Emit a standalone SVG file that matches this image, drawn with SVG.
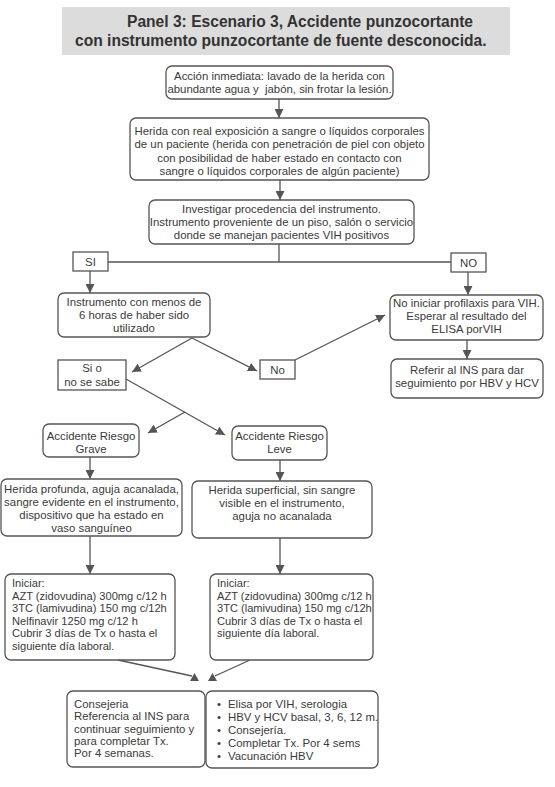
<svg xmlns="http://www.w3.org/2000/svg" width="555" height="787" viewBox="0 0 555 787">
<style>
.box{fill:#fff;stroke:#555;stroke-width:1.3}
.t{font-family:"Liberation Sans",Arial,sans-serif;font-size:11.4px;fill:#3a3a3a}
.s{font-size:11.1px}
.c{text-anchor:middle}
.title{font-family:"Liberation Sans",Arial,sans-serif;font-size:15.6px;font-weight:bold;fill:#333}
.ln{fill:none;stroke:#555;stroke-width:1.3}
.tri{fill:#555}
</style>
<defs>
<marker id="ah" markerUnits="userSpaceOnUse" markerWidth="9" markerHeight="9" refX="9" refY="4.5" orient="auto">
<path d="M0,0 L9,4.5 L0,9 z" fill="#555"/>
</marker>
</defs>
<rect width="555" height="787" fill="#fff"/>
<g id="title">
<rect x="62" y="7" width="448" height="48" fill="#dcdcdc"/>
<text class="title" x="127" y="26.5">Panel 3: Escenario 3, Accidente punzocortante</text>
<text class="title" x="75" y="46">con instrumento punzocortante de fuente desconocida.</text>
</g>
<g id="connectors">
<line class="ln" x1="279" y1="99" x2="279" y2="118" marker-end="url(#ah)"/>
<line class="ln" x1="280" y1="180" x2="280" y2="200" marker-end="url(#ah)"/>
<line class="ln" x1="279" y1="244" x2="279" y2="262"/>
<line class="ln" x1="108" y1="262" x2="451" y2="262"/>
<line class="ln" x1="90" y1="271" x2="90" y2="293" marker-end="url(#ah)"/>
<line class="ln" x1="468" y1="272" x2="468" y2="295" marker-end="url(#ah)"/>
<line class="ln" x1="467" y1="340" x2="467" y2="359" marker-end="url(#ah)"/>
<line class="ln" x1="192" y1="338" x2="132" y2="372" marker-end="url(#ah)"/>
<line class="ln" x1="192" y1="338" x2="257" y2="371" marker-end="url(#ah)"/>
<line class="ln" x1="295" y1="360" x2="385" y2="315" marker-end="url(#ah)"/>
<line class="ln" x1="126" y1="379" x2="225" y2="435" marker-end="url(#ah)"/>
<line class="ln" x1="185" y1="412" x2="148" y2="433" marker-end="url(#ah)"/>
<line class="ln" x1="90" y1="457" x2="90" y2="479" marker-end="url(#ah)"/>
<line class="ln" x1="280" y1="460" x2="280" y2="481" marker-end="url(#ah)"/>
<line class="ln" x1="90" y1="536" x2="90" y2="574" marker-end="url(#ah)"/>
<line class="ln" x1="280" y1="538" x2="280" y2="574" marker-end="url(#ah)"/>
<line class="ln" x1="118" y1="660" x2="192" y2="676"/>
<line class="ln" x1="250" y1="660" x2="215" y2="676"/>
<polygon class="tri" points="190,681 194.5,673 199,681"/>
<polygon class="tri" points="208,681 212.5,673 217,681"/>
</g>
<g id="n1">
<rect class="box" x="166" y="66" width="227" height="33" rx="6"/>
<text class="t c" x="279.5" y="80">Acción inmediata: lavado de la herida con</text>
<text class="t c" x="279.5" y="92.5" xml:space="preserve">abundante agua y  jabón, sin frotar la lesión.</text>
</g>
<g id="n2">
<rect class="box" x="130" y="118" width="299" height="62" rx="6"/>
<text class="t c" x="279.5" y="135">Herida con real exposición a sangre o líquidos corporales</text>
<text class="t c" x="279.5" y="148.3">de un paciente (herida con penetración de piel con objeto</text>
<text class="t c" x="279.5" y="161.6">con posibilidad de haber estado en contacto con</text>
<text class="t c" x="279.5" y="175">sangre o líquidos corporales de algún paciente)</text>
</g>
<g id="n3">
<rect class="box" x="149" y="200" width="265" height="44" rx="6"/>
<text class="t c" x="281.5" y="213">Investigar procedencia del instrumento.</text>
<text class="t c" x="281.5" y="226">Instrumento proveniente de un piso, salón o servicio</text>
<text class="t c" x="281.5" y="239">donde se manejan pacientes VIH positivos</text>
</g>
<g id="si">
<rect class="box" x="73" y="252" width="35" height="19"/>
<text class="t c" x="90.5" y="266">SI</text>
</g>
<g id="no">
<rect class="box" x="451" y="253" width="35" height="19"/>
<text class="t c" x="468.5" y="267">NO</text>
</g>
<g id="n4">
<rect class="box" x="58" y="293" width="152" height="44" rx="6"/>
<text class="t c" x="134" y="306">Instrumento con menos de</text>
<text class="t c" x="134" y="319">6 horas de haber sido</text>
<text class="t c" x="134" y="332">utilizado</text>
</g>
<g id="n5">
<rect class="box" x="390" y="295" width="153" height="45" rx="6"/>
<text class="t c" x="466.5" y="307">No iniciar profilaxis para VIH.</text>
<text class="t c" x="466.5" y="320">Esperar al resultado del</text>
<text class="t c" x="466.5" y="333">ELISA porVIH</text>
</g>
<g id="n6">
<rect class="box" x="391" y="359" width="152" height="39" rx="6"/>
<text class="t c" x="467" y="374">Referir al INS para dar</text>
<text class="t c" x="467" y="386.5">seguimiento por HBV y HCV</text>
</g>
<g id="sio">
<rect class="box" x="58" y="360" width="68" height="30"/>
<text class="t c" x="92" y="372">Si o</text>
<text class="t c" x="92" y="386">no se sabe</text>
</g>
<g id="no2">
<rect class="box" x="260" y="360" width="35" height="19"/>
<text class="t c" x="277.5" y="374">No</text>
</g>
<g id="grave">
<rect class="box" x="43" y="424" width="96" height="33" rx="6"/>
<text class="t c" x="91" y="440">Accidente Riesgo</text>
<text class="t c" x="91" y="453">Grave</text>
</g>
<g id="leve">
<rect class="box" x="232" y="426" width="95" height="34" rx="6"/>
<text class="t c" x="279.5" y="440">Accidente Riesgo</text>
<text class="t c" x="279.5" y="453">Leve</text>
</g>
<g id="profunda">
<rect class="box" x="1" y="479" width="181" height="57" rx="6"/>
<text class="t c" x="91.5" y="493">Herida profunda, aguja acanalada,</text>
<text class="t c" x="91.5" y="506">sangre evidente en el instrumento,</text>
<text class="t c" x="91.5" y="519">dispositivo que ha estado en</text>
<text class="t c" x="91.5" y="532">vaso sanguíneo</text>
</g>
<g id="superficial">
<rect class="box" x="192" y="481" width="180" height="57" rx="6"/>
<text class="t c" x="282" y="494">Herida superficial, sin sangre</text>
<text class="t c" x="282" y="507">visible en el instrumento,</text>
<text class="t c" x="282" y="520">aguja no acanalada</text>
</g>
<g id="iniciarL">
<rect class="box" x="5" y="574" width="170" height="86" rx="6"/>
<text class="t s" x="12" y="587">Iniciar:</text>
<text class="t s" x="12" y="599.6">AZT (zidovudina) 300mg c/12 h</text>
<text class="t s" x="12" y="612.2">3TC (lamivudina) 150 mg c/12h</text>
<text class="t s" x="12" y="624.8">Nelfinavir 1250 mg c/12 h</text>
<text class="t s" x="12" y="637.4">Cubrir 3 días de Tx o hasta el</text>
<text class="t s" x="12" y="650">siguiente día laboral.</text>
</g>
<g id="iniciarR">
<rect class="box" x="210" y="574" width="163" height="86" rx="6"/>
<text class="t s" x="217" y="587">Iniciar:</text>
<text class="t s" x="217" y="599.6">AZT (zidovudina) 300mg c/12 h</text>
<text class="t s" x="217" y="612.2">3TC (lamivudina) 150 mg c/12h</text>
<text class="t s" x="217" y="624.8">Cubrir 3 días de Tx o hasta el</text>
<text class="t s" x="217" y="637.4">siguiente día laboral.</text>
</g>
<g id="consejeria">
<rect class="box" x="67" y="691" width="138" height="76" rx="6"/>
<text class="t" x="74" y="708">Consejeria</text>
<text class="t" x="74" y="720.3">Referencia al INS para</text>
<text class="t" x="74" y="732.6">continuar seguimiento y</text>
<text class="t" x="74" y="744.9">para completar Tx.</text>
<text class="t" x="74" y="757.2">Por 4 semanas.</text>
</g>
<g id="seguimiento">
<rect class="box" x="206" y="691" width="172" height="77" rx="6"/>
<text class="t" x="217" y="707.5">•</text>
<text class="t" x="228" y="707.5">Elisa por VIH, serologia</text>
<text class="t" x="217" y="720.7">•</text>
<text class="t" x="228" y="720.7">HBV y HCV basal, 3, 6, 12 m.</text>
<text class="t" x="217" y="733.9">•</text>
<text class="t" x="228" y="733.9">Consejería.</text>
<text class="t" x="217" y="747.1">•</text>
<text class="t" x="228" y="747.1">Completar Tx. Por 4 sems</text>
<text class="t" x="217" y="760.3">•</text>
<text class="t" x="228" y="760.3">Vacunación HBV</text>
</g>
</svg>
